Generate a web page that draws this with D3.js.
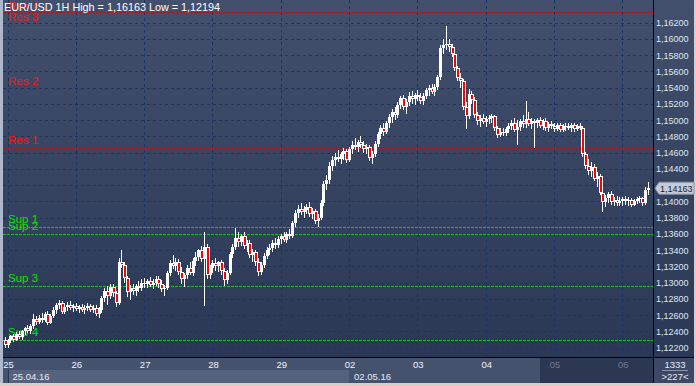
<!DOCTYPE html>
<html>
<head>
<meta charset="utf-8">
<script src="https://cdn.jsdelivr.net/npm/d3@7"></script>
<style>
body{margin:0;background:#d4d0c8;}
svg{display:block;font-family:Arial,"Liberation Sans",sans-serif;}
</style>
</head>
<body>
<div id="chart"></div>
<script>
//Hourly bars [open, high, low, close], one array per trading day
var bars25 = [
[1.1230,1.1233,1.12194,1.1223],[1.1223,1.1231,1.1220,1.1229],[1.1229,1.1236,1.1226,1.1234],[1.1234,1.1237,1.1227,1.1230],
[1.1230,1.1239,1.1228,1.1237],[1.1237,1.1241,1.1231,1.1233],[1.1233,1.1242,1.1230,1.1240],[1.1240,1.1246,1.1236,1.1244],
[1.1244,1.1248,1.1238,1.1241],[1.1241,1.1249,1.1237,1.1247],[1.1247,1.1262,1.1243,1.1255],[1.1255,1.1259,1.1248,1.1252],
[1.1252,1.1260,1.1249,1.1257],[1.1257,1.1263,1.1251,1.1254],[1.1254,1.1264,1.1252,1.1262],[1.1262,1.1265,1.1248,1.1251],
[1.1251,1.1261,1.1249,1.1259],[1.1259,1.1270,1.1256,1.1267],[1.1267,1.1275,1.1262,1.1272],[1.1272,1.1279,1.1268,1.1275],
[1.1275,1.1278,1.1262,1.1264],[1.1264,1.1273,1.1261,1.1270],[1.1270,1.1276,1.1265,1.1272],[1.1272,1.1277,1.1266,1.1269],
[1.1269,1.1274,1.1264,1.1271]];
var bars26 = [
[1.1271,1.1275,1.1265,1.1268],[1.1268,1.1273,1.1263,1.1270],[1.1270,1.1274,1.1264,1.1266],[1.1266,1.1272,1.1262,1.1269],
[1.1269,1.1275,1.1265,1.1271],[1.1271,1.1274,1.1264,1.1267],[1.1267,1.1273,1.1263,1.1269],[1.1269,1.1272,1.1259,1.1262],
[1.1262,1.1270,1.1257,1.1266],[1.1266,1.1284,1.1263,1.1281],[1.1281,1.1293,1.1276,1.1290],[1.1290,1.1296,1.1272,1.1284],
[1.1284,1.1299,1.1280,1.1295],[1.1295,1.1298,1.1283,1.1287],[1.1287,1.1290,1.1270,1.1275],[1.1275,1.1330,1.1273,1.1326],
[1.1326,1.1340,1.1318,1.1322],[1.1322,1.1325,1.1300,1.1306],[1.1306,1.1308,1.1282,1.1289],[1.1289,1.1297,1.1279,1.1293],
[1.1293,1.1298,1.1285,1.1290],[1.1290,1.1299,1.1284,1.1296],[1.1296,1.1302,1.1288,1.1294],[1.1294,1.1305,1.1290,1.1300]];
var bars27 = [
[1.1300,1.1306,1.1294,1.1298],[1.1298,1.1305,1.1293,1.1302],[1.1302,1.1307,1.1295,1.1297],[1.1297,1.1304,1.1292,1.1300],
[1.1300,1.1308,1.1296,1.1304],[1.1304,1.1308,1.1294,1.1298],[1.1298,1.1303,1.1288,1.1292],[1.1292,1.1297,1.1284,1.1294],
[1.1294,1.1315,1.1291,1.1312],[1.1312,1.1328,1.1308,1.1324],[1.1324,1.1334,1.1317,1.1321],[1.1321,1.1330,1.1314,1.1326],
[1.1326,1.1329,1.1310,1.1313],[1.1313,1.1319,1.1299,1.1304],[1.1304,1.1312,1.1295,1.1309],[1.1309,1.1322,1.1305,1.1318],
[1.1318,1.1326,1.1309,1.1312],[1.1312,1.1331,1.1308,1.1327],[1.1327,1.1338,1.1320,1.1332],[1.1332,1.1342,1.1327,1.1340],
[1.1340,1.1345,1.1326,1.1329],[1.1329,1.1362,1.1271,1.1344],[1.1344,1.1348,1.1305,1.1309],[1.1309,1.1322,1.1304,1.1318]];
var bars28 = [
[1.1318,1.1328,1.1312,1.1324],[1.1324,1.1330,1.1315,1.1320],[1.1320,1.1327,1.1313,1.1325],[1.1325,1.1328,1.1310,1.1314],
[1.1314,1.1318,1.1296,1.1303],[1.1303,1.1316,1.1298,1.1312],[1.1312,1.1338,1.1309,1.1335],[1.1335,1.1348,1.1330,1.1344],
[1.1344,1.1367,1.1340,1.1355],[1.1355,1.1362,1.1344,1.1350],[1.1350,1.1360,1.1345,1.1357],[1.1357,1.1362,1.1341,1.1345],
[1.1345,1.1353,1.1338,1.1349],[1.1349,1.1352,1.1330,1.1334],[1.1334,1.1342,1.1326,1.1338],[1.1338,1.1340,1.1320,1.1325],
[1.1325,1.1331,1.1308,1.1313],[1.1313,1.1326,1.1309,1.1322],[1.1322,1.1336,1.1318,1.1333],[1.1333,1.1344,1.1329,1.1340],
[1.1340,1.1348,1.1334,1.1343],[1.1343,1.1352,1.1338,1.1349],[1.1349,1.1355,1.1342,1.1346],[1.1346,1.1357,1.1343,1.1354]];
var bars29 = [
[1.1354,1.1360,1.1348,1.1357],[1.1357,1.1363,1.1350,1.1353],[1.1353,1.1362,1.1349,1.1360],[1.1360,1.1366,1.1354,1.1358],
[1.1358,1.1376,1.1355,1.1373],[1.1373,1.1390,1.1369,1.1386],[1.1386,1.1396,1.1380,1.1391],[1.1391,1.1398,1.1383,1.1387],
[1.1387,1.1394,1.1380,1.1390],[1.1390,1.1397,1.1384,1.1393],[1.1393,1.1399,1.1381,1.1385],[1.1385,1.1392,1.1378,1.1388],
[1.1388,1.1391,1.1372,1.1376],[1.1376,1.1384,1.1368,1.1380],[1.1380,1.1402,1.1377,1.1398],[1.1398,1.1425,1.1394,1.1421],
[1.1421,1.1432,1.1414,1.1427],[1.1427,1.1448,1.1422,1.1444],[1.1444,1.1456,1.1438,1.1451],[1.1451,1.1460,1.1444,1.1455],
[1.1455,1.1463,1.1448,1.1452],[1.1452,1.1461,1.1446,1.1458],[1.1458,1.1466,1.1451,1.1462],[1.1462,1.1465,1.1447,1.1451]];
var bars02 = [
[1.1451,1.1467,1.1448,1.1464],[1.1464,1.1474,1.1459,1.1470],[1.1470,1.1478,1.1463,1.1467],[1.1467,1.1476,1.1461,1.1473],
[1.1473,1.1480,1.1466,1.1469],[1.1469,1.1475,1.1460,1.1464],[1.1464,1.1471,1.1458,1.1467],[1.1467,1.1469,1.1450,1.1454],
[1.1454,1.1462,1.1446,1.1459],[1.1459,1.1474,1.1455,1.1471],[1.1471,1.1486,1.1467,1.1483],[1.1483,1.1494,1.1477,1.1490],
[1.1490,1.1497,1.1480,1.1486],[1.1486,1.1499,1.1483,1.1496],[1.1496,1.1508,1.1491,1.1504],[1.1504,1.1514,1.1497,1.1510],
[1.1510,1.1516,1.1500,1.1506],[1.1506,1.1522,1.1503,1.1519],[1.1519,1.1530,1.1514,1.1527],[1.1527,1.1531,1.1512,1.1516],
[1.1516,1.1526,1.1508,1.1522],[1.1522,1.1535,1.1517,1.1530],[1.1530,1.1536,1.1520,1.1526],[1.1526,1.1534,1.1519,1.1531]];
var bars03 = [
[1.1531,1.1537,1.1524,1.1529],[1.1529,1.1534,1.1520,1.1524],[1.1524,1.1533,1.1519,1.1530],[1.1530,1.1540,1.1526,1.1537],
[1.1537,1.1543,1.1530,1.1540],[1.1540,1.1545,1.1532,1.1535],[1.1535,1.1544,1.1530,1.1541],[1.1541,1.1556,1.1537,1.1553],
[1.1553,1.1592,1.1550,1.1589],[1.1589,1.1600,1.1582,1.1592],[1.1592,1.16163,1.1586,1.1594],[1.1594,1.1600,1.1584,1.1590],
[1.1590,1.1594,1.1578,1.1582],[1.1582,1.1585,1.1560,1.1564],[1.1564,1.1567,1.1548,1.1552],[1.1552,1.1558,1.1540,1.1548],
[1.1548,1.1551,1.1512,1.1516],[1.1516,1.1522,1.1489,1.1505],[1.1505,1.1538,1.1502,1.1532],[1.1532,1.1536,1.1520,1.1525],
[1.1525,1.1528,1.1503,1.1506],[1.1506,1.1510,1.1494,1.1499],[1.1499,1.1507,1.1492,1.1503],[1.1503,1.1508,1.1495,1.1498]];
var bars04 = [
[1.1498,1.1505,1.1492,1.1501],[1.1501,1.1507,1.1495,1.1503],[1.1503,1.1508,1.1496,1.1505],[1.1505,1.1507,1.1487,1.1490],
[1.1490,1.1493,1.1478,1.1482],[1.1482,1.1490,1.1479,1.1486],[1.1486,1.1491,1.1480,1.1484],[1.1484,1.1492,1.1481,1.1489],
[1.1489,1.1496,1.1484,1.1493],[1.1493,1.1500,1.1488,1.1497],[1.1497,1.1503,1.1485,1.1488],[1.1488,1.1500,1.1469,1.1492],
[1.1492,1.1502,1.1487,1.1499],[1.1499,1.1506,1.1490,1.1495],[1.1495,1.1524,1.1491,1.1501],[1.1501,1.1510,1.1493,1.1495],
[1.1495,1.1503,1.1489,1.1499],[1.1499,1.1502,1.1466,1.1497],[1.1497,1.1503,1.1491,1.1500],[1.1500,1.1504,1.1490,1.1493],
[1.1493,1.1502,1.1488,1.1499],[1.1499,1.1503,1.1487,1.1490],[1.1490,1.1498,1.1486,1.1495],[1.1495,1.1499,1.1489,1.1493]];
var bars05 = [
[1.1493,1.1497,1.1486,1.1489],[1.1489,1.1496,1.1487,1.1494],[1.1494,1.1497,1.1485,1.1488],[1.1488,1.1495,1.1486,1.1492],
[1.1492,1.1496,1.1487,1.1493],[1.1493,1.1497,1.1488,1.1491],[1.1491,1.1496,1.1486,1.1494],[1.1494,1.1497,1.1485,1.1489],
[1.1489,1.1495,1.1487,1.1493],[1.1493,1.1496,1.1488,1.1490],[1.1490,1.1492,1.1455,1.1458],[1.1458,1.1461,1.1440,1.1444],
[1.1444,1.1452,1.1432,1.1437],[1.1437,1.1448,1.1430,1.1442],[1.1442,1.1446,1.1425,1.1428],[1.1428,1.1436,1.1418,1.1431],
[1.1431,1.1434,1.1408,1.1411],[1.1411,1.1414,1.1387,1.1399],[1.1399,1.1408,1.1393,1.1404],[1.1404,1.1412,1.1398,1.1409],
[1.1409,1.1413,1.1396,1.1399],[1.1399,1.1406,1.1394,1.1402],[1.1402,1.1407,1.1395,1.1398],[1.1398,1.1405,1.1394,1.1401]];
var bars06 = [
[1.1401,1.1406,1.1395,1.1403],[1.1403,1.1407,1.1396,1.1400],[1.1400,1.1405,1.1395,1.1402],[1.1402,1.1404,1.1393,1.1396],
[1.1396,1.1403,1.1394,1.1401],[1.1401,1.1406,1.1397,1.1403],[1.1403,1.1407,1.1398,1.1404],[1.1404,1.1406,1.1395,1.1398],
[1.1398,1.1418,1.1396,1.1414],[1.1414,1.1424,1.1408,1.14163]];

//Axis labels and support / resistance levels
var dayLabels = ['25','26','27','28','29','02','03','04','05','06'];
var weekLabels = ['25.04.16','02.05.16'];
var resNames = ['Res 1','Res 2','Res 3','Res 4'];
var resValues = [1.14654,1.15380,1.16172,1.16328];
var supNames = ['Sup 1','Sup 2','Sup 3','Sup 4'];
var supValues = [1.13682,1.13600,1.12956,1.12291];
var lastPrice = 1.14163;
var title = 'EUR/USD 1H High = 1,16163 Low = 1,12194';
var barsTotal = '1333', barsShown = '>227<';

var bars = [].concat(bars25,bars26,bars27,bars28,bars29,bars02,bars03,bars04,bars05,bars06);

var W = 696, H = 386;
var plotL = 3, plotR = 653, plotB = 357;
var frameR = 694, frameB = 383;

var svg = d3.select('#chart').append('svg').attr('width',W).attr('height',H);
var defs = svg.append('defs');
var grad = defs.append('linearGradient').attr('id','bg').attr('x1',0).attr('y1',0).attr('x2',0).attr('y2',1);
grad.append('stop').attr('offset','0%').attr('stop-color','#43506d');
grad.append('stop').attr('offset','100%').attr('stop-color','#2b3855');

//frame + backgrounds
svg.append('rect').attr('width',W).attr('height',H).attr('fill','#d4d0c8');
svg.append('rect').attr('x',0).attr('y',0).attr('width',3).attr('height',frameB).attr('fill','#aeb8cc');
svg.append('rect').attr('x',plotL).attr('y',0).attr('width',frameR-plotL).attr('height',plotB).attr('fill','url(#bg)');

//bottom panel
svg.append('rect').attr('x',plotL).attr('y',plotB).attr('width',frameR-plotL).attr('height',frameB-plotB).attr('fill','#45526d');

var x = d3.scaleLinear().domain([0,bars.length-1]).range([4.7,647.9]);
var y = d3.scaleLinear().domain([1.122,1.162]).range([347.7,22.7]);
var dayStart = dayLabels.map(function(d,i){return 1+24*i;});

svg.append('rect').attr('x',8).attr('y',370).attr('width',349-8).attr('height',frameB-370).attr('fill','#55627d');
svg.append('rect').attr('x',540).attr('y',plotB).attr('width',plotR-540).attr('height',frameB-plotB).attr('fill','#2c3752');
svg.append('rect').attr('x',plotR).attr('y',plotB).attr('width',frameR-plotR).attr('height',frameB-plotB).attr('fill','#3c4865');

var loc = d3.formatLocale({decimal:',',thousands:'.',grouping:[3],currency:['','']});
var fmt = loc.format('.5f');
var yTicks = d3.range(0,21).map(function(k){return +(1.122+k*0.002).toFixed(3);});

//grid
var grid = svg.append('g').attr('stroke','#1d3461').attr('stroke-dasharray','3,3').attr('shape-rendering','crispEdges');
grid.selectAll('.hg').data(yTicks).enter().append('line')
  .attr('x1',plotL).attr('x2',plotR)
  .attr('y1',function(d){return Math.round(y(d))+0.5;}).attr('y2',function(d){return Math.round(y(d))+0.5;});
grid.selectAll('.vg').data(dayStart).enter().append('line')
  .attr('y1',0).attr('y2',plotB)
  .attr('x1',function(d){return Math.round(x(d))+0.5;}).attr('x2',function(d){return Math.round(x(d))+0.5;});

//support/resistance
function levelLines(vals,names,col,txtCol){
  var g = svg.append('g');
  g.selectAll('line').data(vals).enter().append('line')
    .attr('x1',plotL).attr('x2',plotR)
    .attr('y1',function(d){return Math.round(y(d))+0.5;}).attr('y2',function(d){return Math.round(y(d))+0.5;})
    .attr('stroke',col).attr('stroke-dasharray','3,1').attr('shape-rendering','crispEdges');
  g.selectAll('text').data(vals).enter().append('text')
    .attr('x',8).attr('y',function(d){return Math.max(10,Math.round(y(d))-4);})
    .attr('fill',txtCol).attr('font-size','11.5px')
    .text(function(d,i){return names[i];});
}
levelLines(resValues,resNames,'#e80000','#ff1010');
levelLines(supValues,supNames,'#00d000','#00e600');

//candles
var cg = svg.append('g').attr('shape-rendering','crispEdges');
bars.forEach(function(b,i){
  var cx = Math.round(x(i));
  var o=b[0],h=b[1],l=b[2],c=b[3];
  cg.append('line').attr('x1',cx+0.5).attr('x2',cx+0.5).attr('y1',y(h)).attr('y2',y(l)).attr('stroke','#ffffff');
  var top = Math.round(y(Math.max(o,c))), bot = Math.round(y(Math.min(o,c)));
  var hh = Math.max(1,bot-top);
  if(c>=o){
    cg.append('rect').attr('x',cx-1).attr('y',top).attr('width',3).attr('height',hh).attr('fill','#ffffff');
  } else {
    cg.append('rect').attr('x',cx-1).attr('y',top).attr('width',4).attr('height',hh).attr('fill','#ffffff');
    if(hh>2) cg.append('rect').attr('x',cx).attr('y',top+1).attr('width',2).attr('height',hh-2).attr('fill','#ff0000');
  }
});

//title
svg.append('text').attr('x',4).attr('y',11).attr('fill','#ffffff').attr('font-size','10.8px').text(title);

//separators
svg.append('line').attr('x1',plotR+0.5).attr('x2',plotR+0.5).attr('y1',0).attr('y2',frameB).attr('stroke','#000');
svg.append('line').attr('x1',plotL).attr('x2',frameR).attr('y1',plotB+0.5).attr('y2',plotB+0.5).attr('stroke','#000');
svg.append('line').attr('x1',8.5).attr('x2',8.5).attr('y1',370).attr('y2',frameB).attr('stroke','#2a3550');

//price axis - the label under the last price tag is covered, so it is skipped
var ly = y(lastPrice);
var yAxis = d3.axisRight(y)
  .tickValues(yTicks.filter(function(t){return Math.abs(y(t)-ly)>9;}))
  .tickSize(0).tickPadding(0).tickFormat(fmt);
var ya = svg.append('g').attr('transform','translate('+(plotR+3)+',0)').call(yAxis);
ya.select('.domain').remove();
ya.selectAll('text').attr('fill','#dfe6f2').attr('font-size','9px').attr('font-family','Arial, sans-serif');

//last price tag
svg.append('path').attr('d','M'+(plotR+2)+','+ly+'L'+(plotR+6)+','+(ly-6)+'L'+(frameR)+','+(ly-6)+'L'+frameR+','+(ly+6)+'L'+(plotR+6)+','+(ly+6)+'Z')
  .attr('fill','#c6ccd6').attr('stroke','#8a94a8');
svg.append('text').attr('x',plotR+7).attr('y',ly+3.5).attr('fill','#1c2233').attr('font-size','9px').text(fmt(lastPrice));

//time axis
var xa = svg.append('g');
xa.selectAll('text').data(dayLabels).enter().append('text')
  .attr('x',function(d,i){return x(dayStart[i])+1;}).attr('y',368)
  .attr('text-anchor','middle').attr('font-size','9.5px')
  .attr('fill',function(d,i){return i>=8?'#6d7a92':'#eef2f8';})
  .text(function(d){return d;});
svg.selectAll('.wk').data(weekLabels).enter().append('text')
  .attr('x',function(d,i){return x(dayStart[i*5])+5;}).attr('y',380)
  .attr('font-size','9.5px').attr('fill','#e6eaf2')
  .text(function(d){return d;});

//bar count box
svg.append('text').attr('x',675).attr('y',368).attr('text-anchor','middle').attr('font-size','9.5px').attr('fill','#e6eaf2').text(barsTotal);
svg.append('line').attr('x1',662).attr('x2',688).attr('y1',370.5).attr('y2',370.5).attr('stroke','#8893aa');
svg.append('text').attr('x',675).attr('y',380).attr('text-anchor','middle').attr('font-size','9.5px').attr('fill','#e6eaf2').text(barsShown);
</script>
</body>
</html>
